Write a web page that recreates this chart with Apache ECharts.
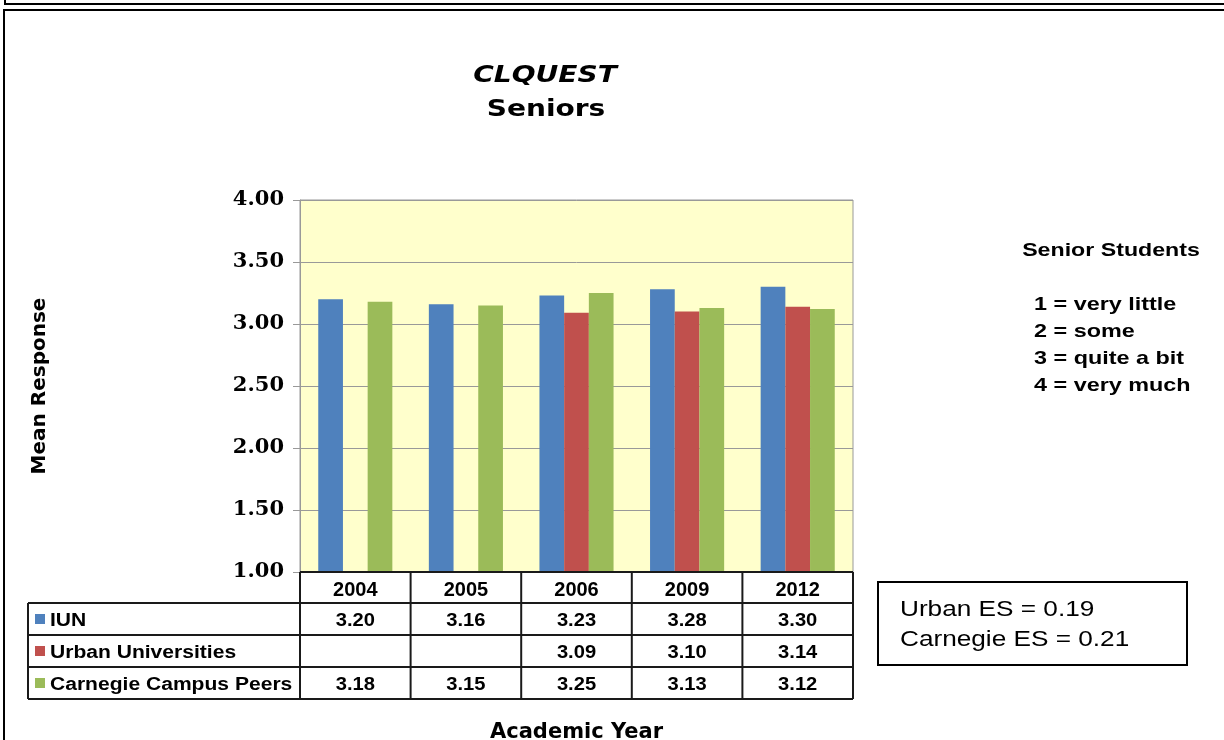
<!DOCTYPE html>
<html>
<head>
<meta charset="utf-8">
<script src="https://cdn.jsdelivr.net/npm/echarts@6/dist/echarts.min.js"></script>
<style>
  html, body { margin: 0; padding: 0; background: #fff; }
  #chart { width: 1224px; height: 740px; }
</style>
</head>
<body>
<div id="chart"></div>
<script>
// values
var years = ['2004', '2005', '2006', '2009', '2012'];
var seriesNames = ['IUN', 'Urban Universities', 'Carnegie Campus Peers'];
var iun = [3.20, 3.16, 3.23, 3.28, 3.30];
var urban = [null, null, 3.09, 3.10, 3.14];
var carnegie = [3.18, 3.15, 3.25, 3.13, 3.12];
var yTicks = [1.0, 4.0, 0.5]; // min, max, step
var titleLines = ['CLQUEST', 'Seniors'];
var scaleTitle = 'Senior Students';
var scaleNotes = ['1 = very little', '2 = some', '3 = quite a bit', '4 = very much'];
var esNotes = ['Urban ES = 0.19', 'Carnegie ES = 0.21'];

var colors = ['#4F81BD', '#C0504D', '#9BBB59'];
var allSeries = [iun, urban, carnegie];

var G = { left: 300, top: 200, width: 553, height: 372 };
var rowH = 32, tableLeft = 28;
var ARIAL = '"Liberation Sans", Arial, sans-serif';

var chart = echarts.init(document.getElementById('chart'));

// text drawn a bit wider than the font, as in the source picture
function txt(x, y, s, font, align, sx) {
    return { type: 'text', x: x, y: y, scaleX: sx || 1.2, z: 10,
        style: { text: s, fill: '#000', font: font, align: align, verticalAlign: 'middle' } };
}

function tableGraphics() {
    var els = [];
    var colW = G.width / years.length;
    var bottom = G.top + G.height;       // top of header row
    var hdrBottom = bottom + 31;
    var right = G.left + G.width;
    var line = function (x1, y1, x2, y2) {
        els.push({ type: 'line', shape: { x1: x1, y1: y1, x2: x2, y2: y2 },
            style: { stroke: '#1a1a1a', lineWidth: 2 }, z: 10 });
    };
    line(G.left, bottom, right, bottom);
    for (var i = 0; i <= years.length; i++) line(G.left + i * colW, bottom, G.left + i * colW, hdrBottom + rowH * seriesNames.length);
    for (var r = 0; r <= seriesNames.length; r++) line(tableLeft, hdrBottom + r * rowH, right, hdrBottom + r * rowH);
    line(tableLeft, hdrBottom, tableLeft, hdrBottom + rowH * seriesNames.length);

    seriesNames.forEach(function (name, s) {
        var cy = hdrBottom + s * rowH + rowH / 2;
        els.push({ type: 'rect', shape: { x: 35, y: cy - 5, width: 10, height: 10 }, style: { fill: colors[s] }, z: 10 });
        els.push(txt(50, cy + 2, name, 'bold 18px ' + ARIAL, 'left', 1.17));
        allSeries[s].forEach(function (v, c) {
            if (v == null) return;
            els.push(txt(G.left + (c + 0.5) * colW, cy + 2, v.toFixed(2), 'bold 18px ' + ARIAL, 'center', 1.12));
        });
    });
    return els;
}

var graphics = [
    // outer frames
    { type: 'rect', shape: { x: 5, y: -20, width: 1240, height: 24 }, style: { fill: 'none', stroke: '#000', lineWidth: 2 } },
    { type: 'rect', shape: { x: 4, y: 10, width: 1240, height: 760 }, style: { fill: 'none', stroke: '#000', lineWidth: 2 } },
    // title
    txt(545, 76, titleLines[0], 'italic bold 23px "DejaVu Sans"', 'center', 1.22),
    txt(546, 110, titleLines[1], 'bold 23px "DejaVu Sans"', 'center', 1.22),
    // rating scale note
    txt(1111, 251, scaleTitle, 'bold 19px ' + ARIAL, 'center', 1.22),
    // ES box
    { type: 'rect', shape: { x: 878, y: 582, width: 309, height: 83 }, style: { fill: '#fff', stroke: '#000', lineWidth: 2 } }
];
scaleNotes.forEach(function (t, i) {
    graphics.push(txt(1034, 305 + i * 27, t, 'bold 19px ' + ARIAL, 'left', 1.23));
});
esNotes.forEach(function (t, i) {
    graphics.push(txt(900, 610 + i * 30, t, '22px ' + ARIAL, 'left', 1.19));
});
graphics = graphics.concat(tableGraphics());

chart.setOption({
    animation: false,
    grid: { left: G.left, top: G.top, width: G.width, height: G.height, outerBoundsMode: 'none',
        show: true, backgroundColor: '#FFFFCC', borderColor: '#999', borderWidth: 1 },
    xAxis: {
        type: 'category', data: years,
        name: 'Academic Year', nameLocation: 'middle', nameGap: 150,
        nameTextStyle: { fontFamily: 'DejaVu Sans', fontWeight: 'bold', fontSize: 21, color: '#000' },
        axisLine: { show: false }, axisTick: { show: false },
        axisLabel: { margin: 8, fontFamily: ARIAL, fontWeight: 'bold', fontSize: 20, color: '#000' }
    },
    yAxis: {
        type: 'value', min: yTicks[0], max: yTicks[1], interval: yTicks[2],
        name: 'Mean Response', nameLocation: 'middle', nameGap: 250,
        nameTextStyle: { fontFamily: 'DejaVu Sans', fontWeight: 'bold', fontSize: 20, color: '#000' },
        axisLine: { show: true, lineStyle: { color: '#999' } },
        axisTick: { show: true, length: 7, lineStyle: { color: '#999' } },
        splitLine: { lineStyle: { color: '#999', width: 1 } },
        axisLabel: { margin: 16, formatter: function (v) { return v.toFixed(2); },
            fontFamily: 'DejaVu Serif', fontWeight: 'bold', fontSize: 21, color: '#000' }
    },
    series: seriesNames.map(function (n, s) {
        return { name: n, type: 'bar', data: allSeries[s], barGap: '0%', barCategoryGap: '33%',
            itemStyle: { color: colors[s] } };
    }),
    graphic: graphics
});
</script>
</body>
</html>
